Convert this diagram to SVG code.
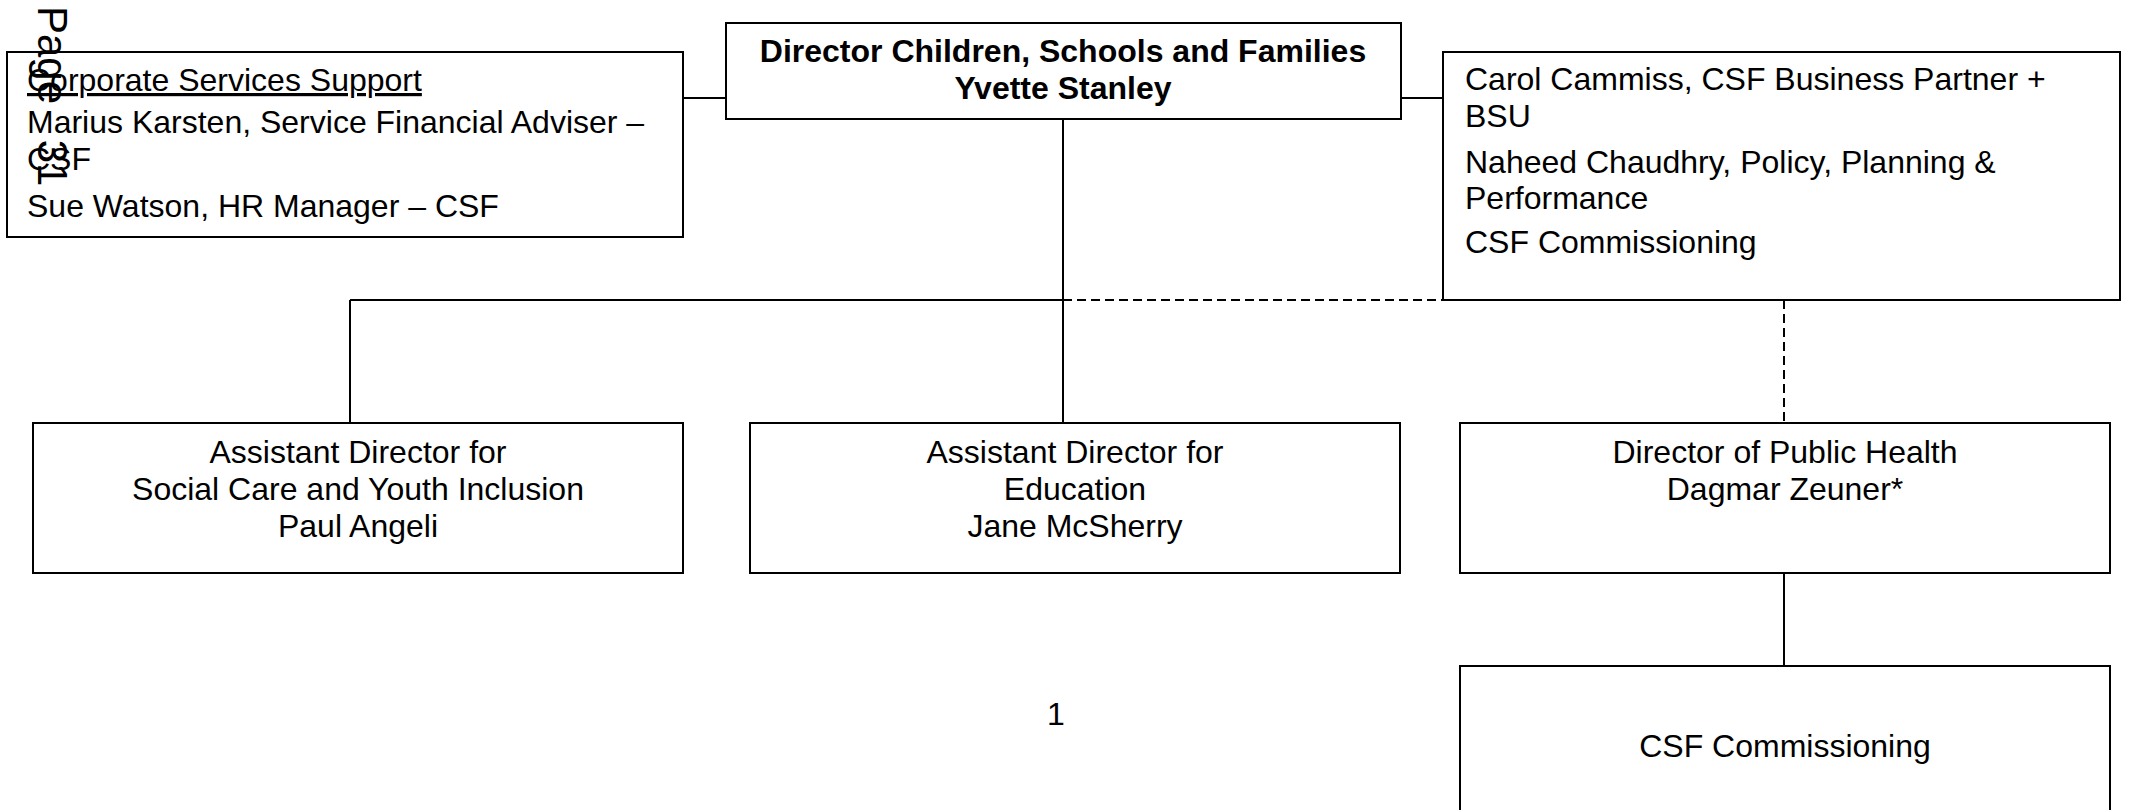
<svg xmlns="http://www.w3.org/2000/svg" width="2129" height="810" viewBox="0 0 2129 810">
<style>
.box{fill:#fff;stroke:#000;stroke-width:2}
.t{font-family:"Liberation Sans",Arial,sans-serif;font-size:32px;fill:#000}
.c{text-anchor:middle}
.b{font-weight:bold}
.ln{stroke:#000;stroke-width:2;fill:none}
.dash{stroke-dasharray:9 5}
</style>
<rect x="0" y="0" width="2129" height="810" fill="#fff"/>
<g id="connectors">
<line class="ln" x1="683" y1="98" x2="726" y2="98"/>
<line class="ln" x1="1401" y1="98" x2="1443" y2="98"/>
<line class="ln" x1="1063" y1="119" x2="1063" y2="423"/>
<line class="ln" x1="350" y1="300" x2="1063" y2="300"/>
<line class="ln" x1="350" y1="300" x2="350" y2="423"/>
<line class="ln dash" x1="1063" y1="300" x2="1784" y2="300"/>
<line class="ln dash" x1="1784" y1="300" x2="1784" y2="423"/>
<line class="ln" x1="1784" y1="573" x2="1784" y2="666"/>
</g>
<g id="corporate">
<rect class="box" x="7" y="52" width="676" height="185"/>
<text class="t" x="27" y="91" text-decoration="underline">Corporate Services Support</text>
<text class="t" x="27" y="133">Marius Karsten, Service Financial Adviser –</text>
<text class="t" x="27" y="170">CSF</text>
<text class="t" x="27" y="217">Sue Watson, HR Manager – CSF</text>
</g>
<g id="director">
<rect class="box" x="726" y="23" width="675" height="96"/>
<text class="t c b" x="1063" y="62">Director Children, Schools and Families</text>
<text class="t c b" x="1063" y="99">Yvette Stanley</text>
</g>
<g id="business">
<rect class="box" x="1443" y="52" width="677" height="248"/>
<text class="t" x="1465" y="90">Carol Cammiss, CSF Business Partner +</text>
<text class="t" x="1465" y="127">BSU</text>
<text class="t" x="1465" y="173">Naheed Chaudhry, Policy, Planning &amp;</text>
<text class="t" x="1465" y="209">Performance</text>
<text class="t" x="1465" y="253">CSF Commissioning</text>
</g>
<g id="ad-social">
<rect class="box" x="33" y="423" width="650" height="150"/>
<text class="t c" x="358" y="463">Assistant Director for</text>
<text class="t c" x="358" y="500">Social Care and Youth Inclusion</text>
<text class="t c" x="358" y="537">Paul Angeli</text>
</g>
<g id="ad-education">
<rect class="box" x="750" y="423" width="650" height="150"/>
<text class="t c" x="1075" y="463">Assistant Director for</text>
<text class="t c" x="1075" y="500">Education</text>
<text class="t c" x="1075" y="537">Jane McSherry</text>
</g>
<g id="public-health">
<rect class="box" x="1460" y="423" width="650" height="150"/>
<text class="t c" x="1785" y="463">Director of Public Health</text>
<text class="t c" x="1785" y="500">Dagmar Zeuner*</text>
</g>
<g id="csf-commissioning">
<rect class="box" x="1460" y="666" width="650" height="170"/>
<text class="t c" x="1785" y="757">CSF Commissioning</text>
</g>
<g id="page-number">
<text class="t c" x="1056" y="725">1</text>
</g>
<g id="page-label">
<text class="t" style="font-size:42px" word-spacing="24" transform="translate(38,6) rotate(90)">Page 31</text>
</g>
</svg>
